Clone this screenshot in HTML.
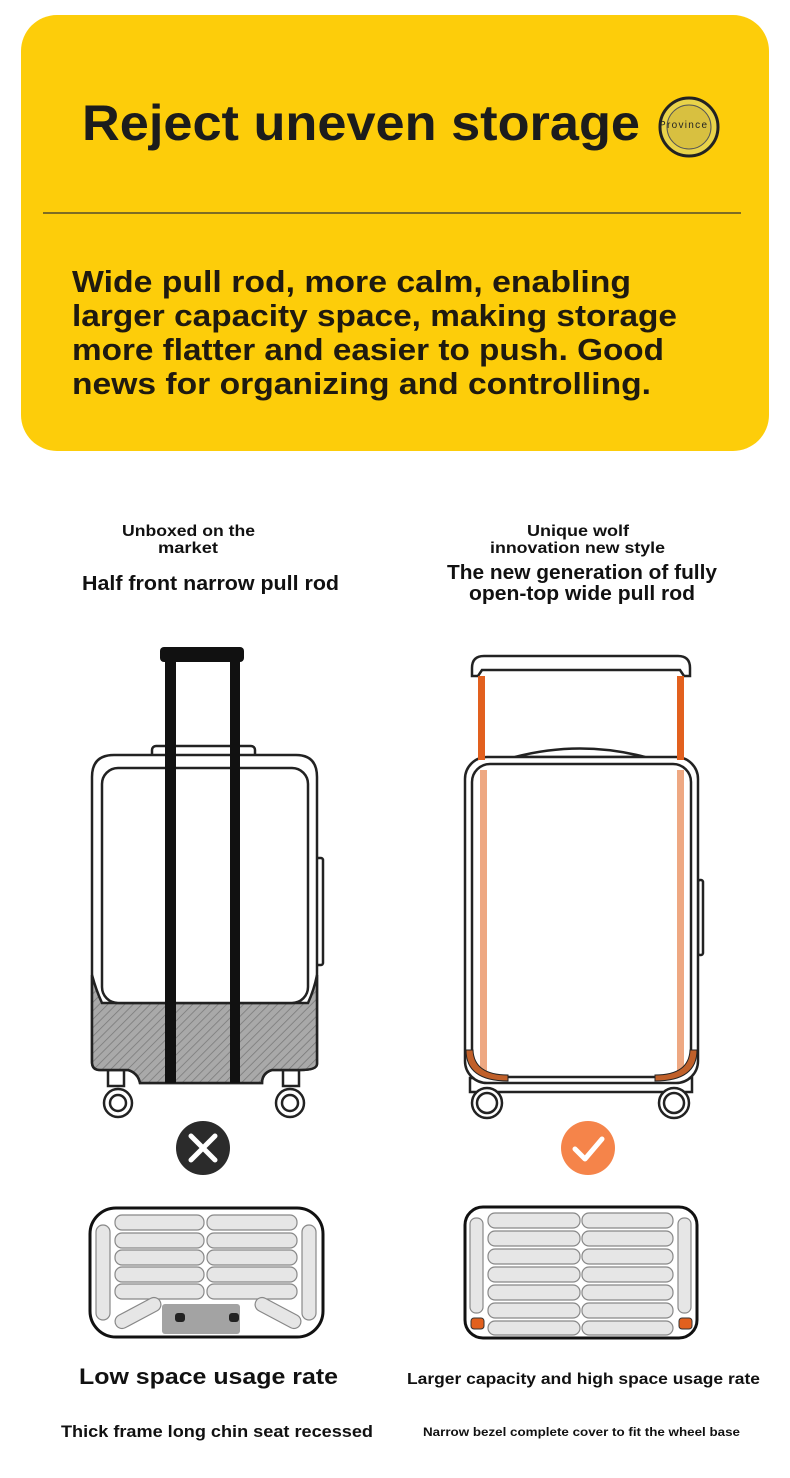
<!DOCTYPE html>
<html><head><meta charset="utf-8"><style>html,body{margin:0;padding:0;background:#fff}svg{display:block}</style></head>
<body>
<svg width="790" height="1478" viewBox="0 0 790 1478" xmlns="http://www.w3.org/2000/svg" font-family="Liberation Sans, sans-serif" font-weight="bold">
<defs>
<pattern id="h" width="6" height="6" patternUnits="userSpaceOnUse" patternTransform="rotate(45)">
<rect width="6" height="6" fill="#a9a9a9"/><line x1="0" y1="0" x2="0" y2="6" stroke="#777" stroke-width="1.5"/>
</pattern>
</defs>
<rect x="21" y="15" width="748" height="436" rx="36" fill="#FDCD0A"/>
<text x="82" y="140" font-size="50" fill="#1c1c1c" textLength="558" lengthAdjust="spacingAndGlyphs">Reject uneven storage</text>
<circle cx="689" cy="127" r="29" fill="#e9d34a" stroke="#222" stroke-width="3"/>
<circle cx="689" cy="127" r="22" fill="#d8c040" stroke="#555" stroke-width="1"/>
<text x="659" y="128" font-size="10" font-weight="normal" fill="#222" textLength="48">Province</text>
<line x1="43" y1="213" x2="741" y2="213" stroke="#333" stroke-width="1.2"/>
<g font-size="31" fill="#1f1a10">
<text x="72" y="292" textLength="559" lengthAdjust="spacingAndGlyphs">Wide pull rod, more calm, enabling</text>
<text x="72" y="326" textLength="605" lengthAdjust="spacingAndGlyphs">larger capacity space, making storage</text>
<text x="72" y="360" textLength="592" lengthAdjust="spacingAndGlyphs">more flatter and easier to push. Good</text>
<text x="72" y="394" textLength="579" lengthAdjust="spacingAndGlyphs">news for organizing and controlling.</text>
</g>
<g fill="#111" lengthAdjust="spacingAndGlyphs">
<text x="122" y="536" font-size="16" textLength="133" lengthAdjust="spacingAndGlyphs">Unboxed on the</text>
<text x="158" y="553" font-size="16" textLength="60" lengthAdjust="spacingAndGlyphs">market</text>
<text x="82" y="590" font-size="20" textLength="257" lengthAdjust="spacingAndGlyphs">Half front narrow pull rod</text>
<text x="527" y="536" font-size="16" textLength="102" lengthAdjust="spacingAndGlyphs">Unique wolf</text>
<text x="490" y="553" font-size="16" textLength="175" lengthAdjust="spacingAndGlyphs">innovation new style</text>
<text x="447" y="579" font-size="20" textLength="270" lengthAdjust="spacingAndGlyphs">The new generation of fully</text>
<text x="469" y="600" font-size="20" textLength="226" lengthAdjust="spacingAndGlyphs">open-top wide pull rod</text>
</g>
<!-- left suitcase -->
<g stroke="#222" stroke-width="2.5" fill="#fff">
<rect x="152" y="746" width="103" height="16" rx="4"/>
<rect x="316" y="858" width="7" height="107" rx="2"/>
<rect x="108" y="1070" width="16" height="16"/><rect x="283" y="1070" width="16" height="16"/>
<path d="M92 777 Q92 755 114 755 L296 755 Q317 755 317 777 L317 1064 Q317 1070 300 1070 L272 1070 Q262 1073 262 1083 L140 1083 Q138 1073 128 1070 L100 1070 Q92 1070 92 1062 Z"/>
<path d="M92 975 Q96 990 102 1003 L308 1003 Q314 990 317 975 L317 1064 Q317 1070 300 1070 L272 1070 Q262 1073 262 1083 L140 1083 Q138 1073 128 1070 L100 1070 Q92 1070 92 1062 Z" fill="url(#h)"/>
<rect x="102" y="768" width="206" height="235" rx="16"/>
<circle cx="118" cy="1103" r="14"/><circle cx="118" cy="1103" r="8"/>
<circle cx="290" cy="1103" r="14"/><circle cx="290" cy="1103" r="8"/>
</g>
<rect x="160" y="647" width="84" height="15" rx="4" fill="#111"/>
<rect x="165" y="655" width="11" height="428" fill="#111"/>
<rect x="230" y="655" width="10" height="428" fill="#111"/>
<!-- right suitcase -->
<g stroke="#222" stroke-width="2.5" fill="#fff">
<path d="M472 676 L472 668 Q472 656 484 656 L678 656 Q690 656 690 668 L690 676 L684 676 L680 670 L482 670 L478 676 Z"/>
<path d="M515 757 Q580 740 645 757 Z"/>
<rect x="698" y="880" width="5" height="75" rx="2"/>
<rect x="470" y="1078" width="222" height="14"/>
<circle cx="487" cy="1103" r="15"/><circle cx="487" cy="1103" r="10"/>
<circle cx="674" cy="1103" r="15"/><circle cx="674" cy="1103" r="10"/>
<rect x="465" y="757" width="233" height="326" rx="22"/>
<rect x="472" y="764" width="219" height="313" rx="18"/>
</g>
<rect x="478" y="676" width="7" height="84" fill="#E2601E"/>
<rect x="677" y="676" width="7" height="84" fill="#E2601E"/>
<rect x="480" y="770" width="7" height="305" fill="#EEA882"/>
<rect x="677" y="770" width="7" height="305" fill="#EEA882"/>
<path d="M466 1050 Q466 1081 508 1081 L508 1075 Q474 1075 473 1050 Z" fill="#C0602A" stroke="#222" stroke-width="1"/>
<path d="M697 1050 Q697 1081 655 1081 L655 1075 Q689 1075 690 1050 Z" fill="#C0602A" stroke="#222" stroke-width="1"/>
<!-- icons -->
<circle cx="203" cy="1148" r="27" fill="#2b2b2b"/>
<path d="M191 1136 L215 1160 M215 1136 L191 1160" stroke="#fff" stroke-width="5" stroke-linecap="round"/>
<circle cx="588" cy="1148" r="27" fill="#F5844A"/>
<path d="M575 1149 L585 1159 L602 1139" stroke="#fff" stroke-width="5" fill="none" stroke-linecap="round" stroke-linejoin="round"/>
<!-- cross sections -->
<g stroke="#888" stroke-width="1.2" fill="#e6e6e6">
<rect x="90" y="1208" width="233" height="129" rx="26" fill="#fff" stroke="#111" stroke-width="3"/>
<rect x="115" y="1215" width="89" height="15" rx="7"/><rect x="207" y="1215" width="90" height="15" rx="7"/>
<rect x="115" y="1233" width="89" height="15" rx="7"/><rect x="207" y="1233" width="90" height="15" rx="7"/>
<rect x="115" y="1250" width="89" height="15" rx="7"/><rect x="207" y="1250" width="90" height="15" rx="7"/>
<rect x="115" y="1267" width="89" height="15" rx="7"/><rect x="207" y="1267" width="90" height="15" rx="7"/>
<rect x="115" y="1284" width="89" height="15" rx="7"/><rect x="207" y="1284" width="90" height="15" rx="7"/>
<rect x="96" y="1225" width="14" height="95" rx="7"/><rect x="302" y="1225" width="14" height="95" rx="7"/>
<rect x="113" y="1306" width="50" height="14" rx="7" transform="rotate(-28 138 1313)"/>
<rect x="253" y="1306" width="50" height="14" rx="7" transform="rotate(28 278 1313)"/>
<rect x="465" y="1207" width="232" height="131" rx="18" fill="#fff" stroke="#111" stroke-width="3"/>
<rect x="488" y="1213" width="92" height="15" rx="7"/><rect x="582" y="1213" width="91" height="15" rx="7"/>
<rect x="488" y="1231" width="92" height="15" rx="7"/><rect x="582" y="1231" width="91" height="15" rx="7"/>
<rect x="488" y="1249" width="92" height="15" rx="7"/><rect x="582" y="1249" width="91" height="15" rx="7"/>
<rect x="488" y="1267" width="92" height="15" rx="7"/><rect x="582" y="1267" width="91" height="15" rx="7"/>
<rect x="488" y="1285" width="92" height="15" rx="7"/><rect x="582" y="1285" width="91" height="15" rx="7"/>
<rect x="488" y="1303" width="92" height="15" rx="7"/><rect x="582" y="1303" width="91" height="15" rx="7"/>
<rect x="488" y="1321" width="92" height="14" rx="7"/><rect x="582" y="1321" width="91" height="14" rx="7"/>
<rect x="470" y="1218" width="13" height="95" rx="6"/><rect x="678" y="1218" width="13" height="95" rx="6"/>
</g>
<rect x="162" y="1304" width="78" height="30" rx="3" fill="#a3a3a3"/>
<rect x="175" y="1313" width="10" height="9" rx="3" fill="#222"/><rect x="229" y="1313" width="10" height="9" rx="3" fill="#222"/>
<rect x="471" y="1318" width="13" height="11" rx="3" fill="#E2601E" stroke="#333" stroke-width="1"/>
<rect x="679" y="1318" width="13" height="11" rx="3" fill="#E2601E" stroke="#333" stroke-width="1"/>
<g fill="#111">
<text x="79" y="1384" font-size="22" textLength="259" lengthAdjust="spacingAndGlyphs">Low space usage rate</text>
<text x="407" y="1384" font-size="16" textLength="353" lengthAdjust="spacingAndGlyphs">Larger capacity and high space usage rate</text>
<text x="61" y="1437" font-size="17" textLength="312" lengthAdjust="spacingAndGlyphs">Thick frame long chin seat recessed</text>
<text x="423" y="1436" font-size="12" textLength="317" lengthAdjust="spacingAndGlyphs">Narrow bezel complete cover to fit the wheel base</text>
</g>
</svg>
</body></html>
